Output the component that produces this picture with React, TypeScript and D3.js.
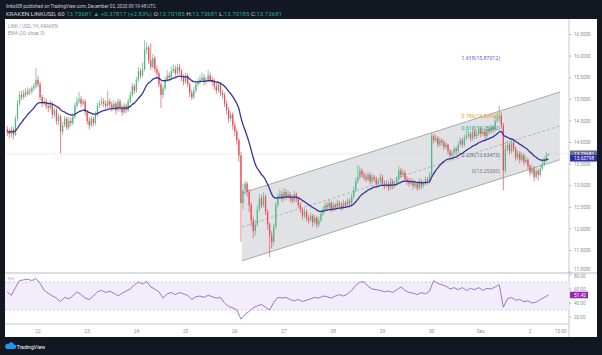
import React from "react";
import * as d3 from "d3";

// ---------- DATA ----------
const startTime = Date.UTC(2020, 10, 21, 9); // first hourly candle
const HOUR = 3600000;
const firstOpen = 14.3;

const closes = [
  14.25,14.20,14.30,14.18,14.55,14.90,15.10,15.05,15.15,15.12,15.20,15.18,
  15.25,15.30,15.45,15.35,15.05,14.90,14.95,14.85,14.80,14.90,14.65,14.75,
  14.50,14.60,14.25,14.40,14.55,14.35,14.50,14.45,14.60,14.85,14.95,15.00,
  14.90,14.95,14.70,14.50,14.40,14.55,14.45,14.65,14.85,14.90,14.95,14.90,
  14.85,14.95,14.88,14.80,14.90,14.75,14.95,14.80,14.70,14.85,14.75,14.95,
  15.10,15.30,15.20,15.45,15.65,15.55,15.70,16.15,16.20,15.90,15.75,15.95,
  15.70,15.60,15.35,15.10,15.25,15.45,15.55,15.50,15.65,15.70,15.60,15.75,
  15.65,15.50,15.40,15.55,15.35,15.15,15.05,15.20,15.35,15.40,15.45,15.50,
  15.40,15.45,15.55,15.45,15.40,15.30,15.20,15.35,15.15,15.10,14.90,14.75,
  14.55,14.65,14.40,14.25,14.05,13.70,12.60,12.90,13.05,12.85,12.55,12.20,
  11.95,12.10,12.45,12.70,12.55,12.75,12.40,12.10,11.85,11.70,12.05,12.55,
  12.75,12.80,12.70,12.85,12.75,12.80,12.70,12.65,12.80,12.70,12.55,12.45,
  12.30,12.40,12.25,12.20,12.30,12.15,12.25,12.10,12.20,12.35,12.45,12.55,
  12.50,12.60,12.45,12.55,12.50,12.60,12.55,12.50,12.60,12.55,12.65,12.60,
  12.75,12.90,13.10,13.20,13.35,13.25,13.20,13.15,13.25,13.10,13.20,13.15,
  13.05,13.10,13.20,13.05,13.00,13.05,12.95,13.10,13.00,13.05,13.15,13.35,
  13.25,13.30,13.15,13.10,13.05,13.10,13.00,13.05,12.95,13.10,13.00,13.05,
  13.15,13.10,13.25,14.15,14.05,14.10,13.95,14.05,14.00,13.90,13.95,13.80,
  13.70,13.75,13.85,13.80,13.95,14.05,13.95,14.10,14.15,14.20,14.10,14.25,
  14.15,14.20,14.30,14.20,14.25,14.15,14.30,14.25,14.35,14.30,14.50,14.55,
  14.62,14.40,13.35,13.85,13.95,13.80,14.00,13.85,13.65,13.75,13.60,13.70,
  13.55,13.60,13.45,13.30,13.40,13.20,13.35,13.25,13.40,13.50,13.60,13.70185,
  13.73681,
];

const highs = [
  14.38,14.32,14.38,14.35,14.62,14.98,15.18,15.20,15.22,15.25,15.28,15.26,
  15.32,15.38,15.72,15.55,15.40,15.10,15.05,15.02,14.92,14.98,14.95,14.82,
  14.80,14.68,14.65,14.48,14.62,14.60,14.58,14.58,14.68,14.92,15.05,15.17,
  15.08,15.02,15.00,14.75,14.58,14.62,14.60,14.72,14.92,14.98,15.05,15.02,
  14.98,15.20,15.02,14.95,14.98,14.95,15.02,15.00,14.88,14.92,14.90,15.02,
  15.18,15.38,15.35,15.52,15.75,15.72,15.85,16.37,16.32,16.25,16.30,16.05,
  16.00,15.78,15.65,15.40,15.32,15.52,15.68,15.62,15.75,15.80,15.78,15.82,
  15.82,15.70,15.58,15.62,15.60,15.40,15.22,15.28,15.42,15.48,15.55,15.62,
  15.58,15.52,15.68,15.62,15.52,15.48,15.38,15.42,15.40,15.22,15.15,14.98,
  14.82,14.72,14.70,14.48,14.32,14.10,13.78,13.05,13.12,13.10,12.92,12.62,
  12.28,12.20,12.55,12.82,12.78,12.85,12.80,12.45,12.15,11.95,12.12,12.62,
  12.82,12.92,12.88,12.95,12.92,12.90,12.85,12.78,12.88,12.85,12.75,12.62,
  12.50,12.48,12.45,12.32,12.38,12.35,12.32,12.30,12.28,12.42,12.52,12.62,
  12.62,12.68,12.65,12.62,12.60,12.68,12.65,12.62,12.68,12.65,12.72,12.70,
  12.82,12.98,13.18,13.48,13.45,13.40,13.32,13.28,13.32,13.30,13.28,13.25,
  13.22,13.18,13.28,13.25,13.12,13.12,13.10,13.18,13.15,13.12,13.22,13.45,
  13.42,13.38,13.35,13.22,13.18,13.18,13.15,13.12,13.10,13.18,13.15,13.12,
  13.22,13.20,13.32,14.22,14.20,14.18,14.15,14.12,14.10,14.05,14.02,13.98,
  13.85,13.82,13.92,13.90,14.02,14.12,14.10,14.18,14.30,14.28,14.25,14.32,
  14.30,14.28,14.38,14.35,14.32,14.30,14.38,14.35,14.42,14.40,14.62,14.68,
  14.85,14.70,14.45,13.95,14.05,14.00,14.08,14.05,13.90,13.82,13.80,13.78,
  13.75,13.68,13.65,13.50,13.48,13.45,13.42,13.40,13.48,13.58,13.68,13.78,
  13.73681,
];

const lows = [
  14.15,14.10,14.12,14.08,14.15,14.50,14.85,14.98,15.00,15.05,15.08,15.10,
  15.12,15.20,15.25,15.28,14.98,14.82,14.85,14.78,14.70,14.75,14.55,14.58,
  14.42,14.40,13.75,14.18,14.35,14.28,14.30,14.38,14.40,14.55,14.80,14.90,
  14.82,14.85,14.62,14.42,14.30,14.35,14.38,14.40,14.60,14.80,14.85,14.82,
  14.78,14.80,14.80,14.72,14.75,14.65,14.70,14.72,14.62,14.65,14.68,14.70,
  14.90,15.05,15.12,15.15,15.40,15.48,15.50,15.65,16.05,15.82,15.68,15.70,
  15.62,15.52,15.28,14.80,15.02,15.20,15.40,15.42,15.45,15.60,15.52,15.55,
  15.58,15.42,15.32,15.35,15.28,15.05,14.98,15.00,15.15,15.30,15.35,15.40,
  15.32,15.35,15.40,15.38,15.32,15.22,15.12,15.15,15.08,15.02,14.82,14.65,
  14.45,14.48,14.30,14.15,13.95,13.55,11.70,12.45,12.80,12.75,12.40,12.05,
  11.78,11.85,12.05,12.40,12.48,12.50,12.32,11.98,11.35,11.55,11.62,12.00,
  12.50,12.68,12.62,12.65,12.68,12.70,12.62,12.58,12.60,12.62,12.48,12.38,
  12.22,12.25,12.18,12.12,12.15,12.05,12.10,12.02,12.05,12.15,12.30,12.40,
  12.42,12.45,12.38,12.40,12.42,12.45,12.48,12.42,12.45,12.48,12.50,12.52,
  12.55,12.70,12.85,13.05,13.15,13.18,13.12,13.08,13.10,13.02,13.05,13.08,
  12.98,12.98,13.05,12.98,12.92,12.95,12.88,12.90,12.92,12.95,13.00,13.10,
  13.18,13.20,13.08,13.02,12.98,13.00,12.92,12.95,12.88,12.90,12.92,12.95,
  13.00,13.02,13.05,13.20,13.98,14.00,13.88,13.90,13.92,13.82,13.85,13.72,
  13.62,13.65,13.70,13.72,13.75,13.90,13.88,13.90,14.05,14.10,14.02,14.05,
  14.08,14.10,14.15,14.12,14.15,14.08,14.10,14.18,14.20,14.22,14.25,14.45,
  14.48,14.32,12.90,13.30,13.80,13.72,13.75,13.78,13.58,13.60,13.52,13.55,
  13.48,13.50,13.38,13.22,13.25,13.10,13.15,13.12,13.20,13.35,13.45,13.55,
  13.70185,
];

// RSI (14) read every 2 hours
const rsiValues = [
  56,51,62,72,73,74,72,75,68,58,
  54,50,47,42,48,46,50,56,52,47,
  45,50,56,58,55,57,54,50,54,57,
  60,66,70,67,71,63,60,56,47,53,
  55,52,55,53,51,45,49,50,48,51,
  49,47,48,40,35,33,30,17,24,28,
  33,36,38,34,30,41,48,47,48,45,
  43,45,42,44,46,48,47,50,49,47,
  50,52,50,53,58,65,70,70,64,60,
  59,58,56,57,55,59,63,58,55,54,
  52,55,53,57,72,68,66,64,60,62,
  59,62,58,61,59,62,58,61,60,63,
  66,34,46,48,44,45,42,43,40,41,
  45,48,51.42,
];

const priceTicks = [11, 11.5, 12, 12.5, 13, 13.5, 14, 14.5, 15, 15.5, 16, 16.5];
const rsiTicks = [20, 40, 60, 80];
const timeTicks = [
  Date.UTC(2020, 10, 22), Date.UTC(2020, 10, 23), Date.UTC(2020, 10, 24),
  Date.UTC(2020, 10, 25), Date.UTC(2020, 10, 26), Date.UTC(2020, 10, 27),
  Date.UTC(2020, 10, 28), Date.UTC(2020, 10, 29), Date.UTC(2020, 10, 30),
  Date.UTC(2020, 11, 1), Date.UTC(2020, 11, 2), Date.UTC(2020, 11, 2, 15),
];
const timeTickLabels = ["22", "23", "24", "25", "26", "27", "28", "29", "30", "Dec", "2", "15:00"];

// parallel channel (hour offsets from first candle, prices)
const channelHours = [114.5, 269.6];
const channelUpper = [12.83, 15.17];
const channelLower = [11.26, 13.6];

const fibPrices = [15.87012, 14.52436, 14.25262, 13.63473, 13.253];
const fibLabels = ["1.618(15.87012)", "0.786(14.52436)", "0.618(14.25262)", "0.236(13.63473)", "0(13.25300)"];
const fibColors = ["#6a5acd", "#f59a23", "#26a69a", "#5d6f7e", "#787b86"];

const lastPrice = 13.73681;
const emaLast = 13.63798;
const rsiLast = 51.42;

// ---------- LAYOUT ----------
const W = 602;
const H = 355;
const paneL = 5;
const axisX = 569;
const mainTop = 19;
const mainBottom = 273;
const rsiBottom = 324;
const footerTop = 337;
const FONT = "Roboto, 'Liberation Sans', Arial, sans-serif";
const UP = "#53b987";
const DOWN = "#eb4d5c";

export default function App() {
  const x = d3.scaleUtc()
    .domain([new Date(Date.UTC(2020, 10, 22)), new Date(Date.UTC(2020, 11, 2))])
    .range([38, 530]);
  const y = d3.scaleLinear().domain([11.5, 16.5]).range([250.5, 34.5]);
  const yR = d3.scaleLinear().domain([20, 80]).range([317, 275]);
  const tAt = (h: number) => new Date(startTime + h * HOUR);

  const k = 2 / 21;
  const ema: number[] = [];
  closes.forEach((c, i) => ema.push(i === 0 ? c : c * k + ema[i - 1] * (1 - k)));

  const emaLine = d3.line<number>()
    .x((_, i) => x(tAt(i)))
    .y((d) => y(d))
    .curve(d3.curveMonotoneX);

  const rsiLine = d3.line<number>()
    .x((_, i) => x(tAt(i * 2)))
    .y((d) => yR(d));

  const chPoly = [
    [x(tAt(channelHours[0])), y(channelUpper[0])],
    [x(tAt(channelHours[1])), y(channelUpper[1])],
    [x(tAt(channelHours[1])), y(channelLower[1])],
    [x(tAt(channelHours[0])), y(channelLower[0])],
  ];
  const midY0 = y((channelUpper[0] + channelLower[0]) / 2);
  const midY1 = y((channelUpper[1] + channelLower[1]) / 2);

  const bw = 1.3;

  return (
    <svg width={W} height={H} style={{ position: "fixed", left: 0, top: 0 }} fontFamily={FONT}>
      <defs>
        <clipPath id="mainClip">
          <rect x={paneL} y={mainTop} width={axisX - paneL} height={mainBottom - mainTop} />
        </clipPath>
        <clipPath id="rsiClip">
          <rect x={paneL} y={mainBottom} width={axisX - paneL} height={rsiBottom - mainBottom} />
        </clipPath>
      </defs>
      <rect x={0} y={0} width={W} height={H} fill="#131722" />
      <rect x={paneL} y={mainTop} width={597 - paneL} height={footerTop - mainTop} fill="#ffffff" />

      {/* header */}
      <text x={6} y={8} fontSize={4.6} fill="#c9ccd4">
        linkst08 published on TradingView.com, December 02, 2020 09:19:48 UTC
      </text>
      <text x={6} y={16} fontSize={6.1} fill="#d1d4dc">
        <tspan>KRAKEN:LINKUSD, 60 </tspan>
        <tspan fill="#26a69a">{`${lastPrice} ▲ +0.37817 (+2.83%) `}</tspan>
        <tspan>O:</tspan><tspan fill="#26a69a">13.70185 </tspan>
        <tspan>H:</tspan><tspan fill="#26a69a">13.73681 </tspan>
        <tspan>L:</tspan><tspan fill="#26a69a">13.70185 </tspan>
        <tspan>C:</tspan><tspan fill="#26a69a">13.73681</tspan>
      </text>

      <g clipPath="url(#mainClip)">
        {/* channel */}
        <polygon points={chPoly.map((p) => p.join(",")).join(" ")} fill="#e1e2e5" stroke="none" />
        <line x1={chPoly[0][0]} y1={chPoly[0][1]} x2={chPoly[1][0]} y2={chPoly[1][1]} stroke="#9ea1a8" strokeWidth={0.9} />
        <line x1={chPoly[3][0]} y1={chPoly[3][1]} x2={chPoly[2][0]} y2={chPoly[2][1]} stroke="#9ea1a8" strokeWidth={0.9} />
        <line x1={chPoly[0][0]} y1={midY0} x2={chPoly[1][0]} y2={midY1} stroke="#9ea1a8" strokeWidth={0.7} strokeDasharray="3,2" />

        {/* last price line */}
        <line x1={paneL} x2={axisX} y1={y(lastPrice)} y2={y(lastPrice)} stroke="#d0d2d6" strokeWidth={0.6} strokeDasharray="1,1" />

        {/* candles */}
        {closes.map((c, i) => {
          const o = i === 0 ? firstOpen : closes[i - 1];
          const cx = x(tAt(i));
          const col = c >= o ? UP : DOWN;
          const top = y(Math.max(o, c));
          const bot = y(Math.min(o, c));
          return (
            <g key={i}>
              <line x1={cx} x2={cx} y1={y(highs[i])} y2={y(lows[i])} stroke={col} strokeWidth={0.7} />
              <rect x={cx - bw / 2} y={top} width={bw} height={Math.max(0.6, bot - top)} fill={col} />
            </g>
          );
        })}

        {/* EMA */}
        <path d={emaLine(ema) || ""} fill="none" stroke="#34349a" strokeWidth={1.3} />

        {/* fib labels */}
        {fibPrices.map((p, i) => (
          <text key={i} x={500} y={y(p) - 1.5} fontSize={5.2} fill={fibColors[i]} textAnchor="end">
            {fibLabels[i]}
          </text>
        ))}
      </g>

      {/* legend */}
      <text x={8} y={28} fontSize={4.6} fill="#9598a1">LINK / USD, 1H, KRAKEN</text>
      <text x={8} y={35} fontSize={4.6} fill="#9598a1">EMA (20, close, 0)</text>

      {/* separators */}
      <line x1={paneL} x2={597} y1={mainBottom} y2={mainBottom} stroke="#b8bbc2" strokeWidth={1} />
      <line x1={paneL} x2={axisX} y1={rsiBottom} y2={rsiBottom} stroke="#b8bbc2" strokeWidth={0.8} />
      <line x1={axisX} x2={axisX} y1={mainTop} y2={footerTop} stroke="#b8bbc2" strokeWidth={0.8} />

      {/* price axis */}
      {priceTicks.map((p) => (
        <g key={p}>
          <line x1={axisX} x2={axisX + 2.5} y1={y(p)} y2={y(p)} stroke="#9598a1" strokeWidth={0.6} />
          <text x={574} y={Math.min(y(p) + 1.7, 271.2)} fontSize={4.6} fill="#8a8d96">{p.toFixed(4)}</text>
        </g>
      ))}
      <rect x={axisX + 1} y={y(lastPrice) - 3.4} width={27} height={6.8} fill="#6f727c" />
      <text x={574} y={y(lastPrice) + 1.7} fontSize={4.8} fill="#ffffff">{lastPrice.toFixed(5)}</text>
      <rect x={axisX + 1} y={y(emaLast) - 3.2} width={27} height={6.6} fill="#2e2eb0" />
      <text x={574} y={y(emaLast) + 1.7} fontSize={4.8} fill="#ffffff">{emaLast.toFixed(5)}</text>

      {/* RSI pane */}
      <g clipPath="url(#rsiClip)">
        <rect x={paneL} y={yR(70)} width={axisX - paneL} height={yR(30) - yR(70)} fill="#f3ecfb" />
        <line x1={paneL} x2={axisX} y1={yR(70)} y2={yR(70)} stroke="#c3b3de" strokeWidth={0.7} strokeDasharray="2,2" />
        <line x1={paneL} x2={axisX} y1={yR(30)} y2={yR(30)} stroke="#c3b3de" strokeWidth={0.7} strokeDasharray="2,2" />
        <path d={rsiLine(rsiValues) || ""} fill="none" stroke="#8c6cc2" strokeWidth={0.9} />
      </g>
      <text x={8} y={280} fontSize={4.4} fill="#b0b3ba">RSI</text>
      {rsiTicks.map((r) => (
        <g key={r}>
          <line x1={axisX} x2={axisX + 2.5} y1={yR(r)} y2={yR(r)} stroke="#9598a1" strokeWidth={0.6} />
          <text x={574} y={Math.max(yR(r) + 1.7, 278)} fontSize={4.6} fill="#8a8d96">{r.toFixed(2)}</text>
        </g>
      ))}
      <rect x={axisX + 1} y={yR(rsiLast) - 3.3} width={18} height={6.6} fill="#9c27b0" />
      <text x={574} y={yR(rsiLast) + 1.7} fontSize={4.8} fill="#ffffff">{rsiLast.toFixed(2)}</text>

      {/* time axis */}
      {timeTicks.map((t, i) => (
        <text key={t} x={x(new Date(t))} y={333} fontSize={4.8} fill="#8a8d96" textAnchor="middle">
          {timeTickLabels[i]}
        </text>
      ))}

      {/* footer logo */}
      <g>
        <path d="M7 349 h7 a2.2 2.2 0 0 0 0-4.4 a3 3 0 0 0-5.6-0.6 a2.4 2.4 0 0 0-1.4 5z" fill="#2196f3" />
        <text x={16.5} y={348.5} fontSize={5.2} fill="#ffffff">TradingView</text>
      </g>
    </svg>
  );
}
